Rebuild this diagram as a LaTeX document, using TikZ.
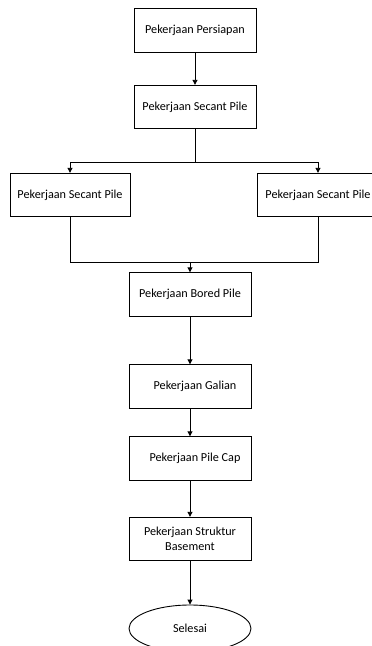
\documentclass[tikz,border=0pt]{standalone}
\usepackage{fontspec}
\setmainfont{Carlito}
\usetikzlibrary{arrows.meta,shapes.geometric}
\begin{document}
\begin{tikzpicture}[x=1pt,y=-1pt,
  box/.style={draw,line width=0.9pt,minimum width=122pt,minimum height=43.5pt,inner sep=0pt,font=\fontsize{12.2}{14.5}\selectfont,align=center},
  arr/.style={line width=0.9pt,-{Triangle[length=5pt,width=5pt]}},
  ln/.style={line width=0.9pt}]
\useasboundingbox (0,0) rectangle (372,646);
\node[box] (a) at (195,30.5) {Pekerjaan Persiapan};
\node[box] (b) at (195,107) {Pekerjaan Secant Pile};
\node[box,minimum width=120pt] (l) at (70,195) {Pekerjaan Secant Pile};
\node[box,minimum width=120pt] (r) at (317,195) {\hspace*{2pt}Pekerjaan Secant Pile};
\node[box] (c) at (190,294.5) {Pekerjaan Bored Pile};
\node[box] (d) at (190,386.5) {\hspace*{10pt}Pekerjaan Galian};
\node[box] (e) at (190,458.5) {\hspace*{10pt}Pekerjaan Pile Cap};
\node[box] (f) at (190,539) {Pekerjaan Struktur\\Basement};
\node[draw,ellipse,line width=0.9pt,minimum width=122pt,minimum height=47pt,inner sep=0pt,font=\fontsize{12.2}{14.5}\selectfont] (g) at (190,628.5) {Selesai};
\coordinate (s) at (195,162);
\coordinate (m) at (190,262);
\draw[arr] (a) -- (b);
\draw[ln] (b.south) -- (s);
\draw[arr] (s) -| (l.north);
\draw[arr] (s) -| (r.north -| 318,0);
\draw[ln] (l.south) |- (m);
\draw[ln] (r.south -| 318,0) |- (m);
\draw[arr] (m) -- (c.north);
\draw[arr] (c) -- (d);
\draw[arr] (d) -- (e);
\draw[arr] (e) -- (f);
\draw[arr] (f) -- (g);
\end{tikzpicture}
\end{document}
